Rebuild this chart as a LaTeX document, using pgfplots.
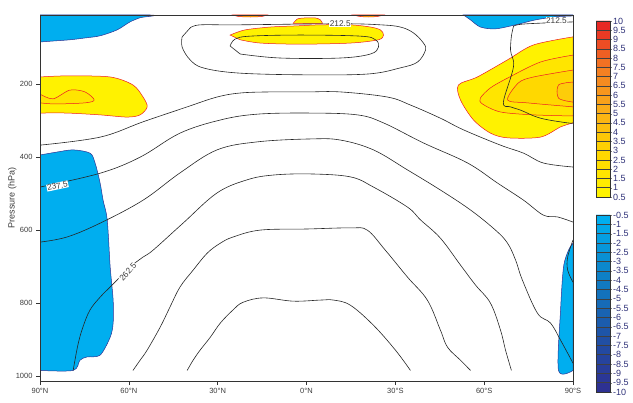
\documentclass[border=0pt]{standalone}
\usepackage{fontspec}
\setmainfont{Liberation Sans}
\usepackage{pgfplots}
\pgfplotsset{compat=1.18}
\definecolor{cyanfill}{RGB}{0,174,239}
\definecolor{bluedge}{RGB}{46,49,146}
\definecolor{yel1}{RGB}{255,242,0}
\definecolor{yel2}{RGB}{255,229,0}
\definecolor{yel3}{RGB}{255,216,0}
\definecolor{yel4}{RGB}{253,204,10}
\definecolor{rededge}{RGB}{237,28,36}
\definecolor{ticktext}{RGB}{60,60,60}
\definecolor{cbtext}{RGB}{46,49,120}
\pgfplotsset{
  cline/.style={black!85, line width=0.6pt, smooth, tension=0.6, no marks},
  bfill/.style={fill=cyanfill, draw=bluedge, line width=0.5pt, smooth, tension=0.5, no marks},
  yfill/.style={fill=#1, draw=rededge, line width=0.5pt, smooth, tension=0.5, no marks},
}
\tikzset{clab/.style={fill=white, inner sep=0.5pt, font=\fontsize{8.3}{9}\selectfont, text=ticktext}}
\begin{document}
\begin{tikzpicture}
\begin{axis}[name=ax, scale only axis, width=533pt, height=366pt,
  xmin=0, xmax=180, ymin=10, ymax=1014, y dir=reverse,
  xtick={0,30,60,90,120,150,180},
  xticklabels={90°N,60°N,30°N,0°N,30°S,60°S,90°S},
  ytick={200,400,600,800,1000},
  tick align=outside, xtick pos=bottom, ytick pos=left,
  major tick length=4pt,
  tick style={black!80, line width=0.6pt},
  tick label style={font=\fontsize{7.5}{8}\selectfont, text=ticktext},
  /pgf/number format/assume math mode=true,
  /pgf/number format/1000 sep={},
  ylabel={Pressure (hPa)},
  ylabel style={at={(axis description cs:0,0.5)}, anchor=south, yshift=20pt, font=\fontsize{9}{10}\selectfont, text=ticktext},
  axis line style={black!80, line width=0.8pt},
  axis on top,
]
% ---- negative (blue) regions
\addplot[bfill] coordinates {(0,10) (37.2,10) (33.8,17.5) (30.4,29) (26,51) (20.3,67) (15.2,73) (10.1,78) (5.1,81) (0,84)} -- cycle;
\addplot[bfill] coordinates {(143,10) (145.4,23.5) (148.7,43) (153.8,48) (160.6,37) (167.3,23.5) (174.1,15) (180,12.5) (180,10)} -- cycle;
\addplot[bfill] coordinates {(0,394) (5.7,386) (11.2,380) (16.9,389) (18.6,416) (20.3,471) (21.3,518) (22.7,572) (23.7,701) (24.7,792) (24.7,855) (23.7,894) (20.3,943) (15.9,948) (13.5,957) (11.2,985) (0,985)} -- cycle;
\addplot[bfill] coordinates {(180,636) (178.5,655) (176.8,701) (175.8,819) (175.1,985) (180,985)} -- cycle;
% ---- positive (yellow) regions
\addplot[yfill=yel1] coordinates {(0,180) (9.1,177) (23.7,180) (31.4,202) (34.8,235) (36.2,262) (33.8,284) (29.4,290) (20.3,284) (9.1,279) (0,279)} -- cycle;
\addplot[yfill=yel2] coordinates {(0,227) (4.4,240) (10.1,216) (15.2,221) (18.3,243) (15.2,251) (5.1,254) (0,251)} -- cycle;
\addplot[yfill=yel1] coordinates {(85.5,33) (86.9,21) (89.6,18) (93,18) (94.7,23.5) (95.4,33)} -- cycle;
\addplot[yfill=yel1] coordinates {(64.2,65) (69.2,51) (77.8,43) (86.2,40) (94.7,37) (104.8,37) (111.6,43) (115,51) (116,65) (114.3,78) (104.8,87) (87.9,90) (74.4,87) (67.6,78)} -- cycle;
\addplot[yfill=yel3] coordinates {(65.2,10) (67,14) (71,15.5) (75,14) (76.7,10)} -- cycle;
\addplot[yfill=yel3] coordinates {(105.8,10) (108,14) (111,15.5) (114,14) (116,10)} -- cycle;
\addplot[yfill=yel1] coordinates {(180,70) (166.7,92) (157.9,133) (147.7,180) (141.3,202) (142,243) (146.4,298) (152.1,334) (157.9,347) (169,345) (175.8,317) (180,306)} -- cycle;
\addplot[yfill=yel2] coordinates {(180,120) (169,139) (157.9,183) (152.1,210) (148.7,238) (149.4,254) (155.5,276) (166.7,284) (180,287)} -- cycle;
\addplot[yfill=yel3] coordinates {(180,161) (166.7,180) (161.6,196) (157.9,243) (164.6,251) (180,262)} -- cycle;
\addplot[yfill=yel4] coordinates {(180,194) (175.1,202) (175.1,238) (180,249)} -- cycle;
% ---- contour lines
\addplot[cline] coordinates {(48,70) (48,98) (50.7,133) (55.1,155) (66.6,169) (87.9,174) (110.5,172) (121.7,155) (127.5,139) (130.2,106) (129.5,87) (126.1,59) (121.7,43) (115,37) (101.4,34) (66.6,37) (54.1,37) (50.7,45.5)} -- cycle;
\addplot[cline] coordinates {(64.2,95) (65.9,76) (71,68) (87.9,65) (108.2,68) (113.3,78) (114.3,98) (111.6,117) (101.4,128) (81.1,128) (67.6,117)} -- cycle;
\addplot[cline] coordinates {(180,29) (170,32) (161.3,37) (159.6,51) (158.9,106) (159.9,152) (156.5,249) (158.9,262) (162.3,271) (169,293) (178.2,306) (180,306)};
\addplot[cline] coordinates {(0,367) (20.3,345) (34.8,303) (49.7,262) (59.8,235) (67.6,224) (77.8,221) (90.3,221) (101.4,221) (117.3,235) (125.1,257) (135.2,293) (143,325) (155.5,367) (163.3,389) (170,416) (180,427)};
\addplot[cline] coordinates {(0,482) (20.3,444) (33.8,400) (47.3,334) (60.9,298) (73.4,282) (91.3,279) (107.2,284) (116,306) (129.5,361) (144.4,416) (154.5,471) (163.3,518) (170,559) (174.8,564) (180,578)};
\addplot[cline] coordinates {(0,633) (9.1,619) (20.3,581) (34.8,518) (47.3,443) (59.8,380) (73.4,358) (91.3,350) (101.4,353) (112.6,380) (124.1,435) (135.2,490) (145.4,545) (153.8,600) (157.9,636) (160.6,682) (162.9,737) (168,828) (172.4,855) (175.8,902) (180,965)};
\addplot[cline] coordinates {(11.2,985) (12.8,915) (14.5,866) (16.9,819) (20.3,784) (23.7,756) (27,729) (30.4,701) (34.8,674) (38.2,655) (48.3,581) (59.8,498) (70,462) (78.8,449) (91.3,446) (104.8,454) (112.6,482) (124.1,537) (128.5,572) (135.2,622) (142,696) (147.1,751) (152.1,800) (155.5,874) (157.2,929) (159.2,985)};
\addplot[cline] coordinates {(31.4,985) (33.8,957) (36.2,929) (40.6,866) (43.9,811) (47.3,756) (51.7,710) (56.5,663) (60.9,636) (65.2,619) (74.4,600) (90.3,597) (104.8,594) (110.5,600) (116.6,655) (124.1,729) (130.8,792) (135.2,874) (137.6,921) (142,957) (145.4,985)};
\addplot[cline] coordinates {(49.7,985) (51.7,957) (54.1,929) (57.5,894) (60.9,855) (65.2,819) (68.6,798) (75.4,786) (85.5,795) (94.7,792) (99.1,792) (104.8,806) (112.6,861) (120,929) (125.1,985)};
\addplot[cline] coordinates {(180,627) (178.2,674) (178.2,710) (180,743)};
% ---- contour labels
\node[clab] at (axis cs:101.4,33) {212.5};
\node[clab] at (axis cs:174.4,26) {212.5};
\node[clab, rotate=12] at (axis cs:5.9,479) {237.5};
\node[clab, rotate=48] at (axis cs:29.7,715) {262.5};
\end{axis}
% ---- colour bar, positive
\begin{axis}[at={(ax.north east)}, anchor=north west, xshift=23pt, yshift=-6pt,
  scale only axis, width=14pt, height=176pt,
  xmin=0, xmax=1, ymin=0.5, ymax=10, xtick=\empty,
  ytick={0.5,1,1.5,2,2.5,3,3.5,4,4.5,5,5.5,6,6.5,7,7.5,8,8.5,9,9.5,10},
  ytick pos=right, yticklabel pos=right, tick align=outside, major tick length=1.5pt,
  tick label style={font=\fontsize{9}{9}\selectfont, text=cbtext},
  yticklabel style={xshift=-2pt, /pgf/number format/fixed},
  /pgf/number format/assume math mode=true,
  ymajorgrids, grid style={black!75, line width=0.5pt},
  axis line style={black!80, line width=0.6pt}, axis on top,
  colormap={warm}{rgb255=(255,242,0) rgb255=(255,212,0) rgb255=(250,172,25) rgb255=(243,122,35) rgb255=(232,40,36)},
  point meta min=0.75, point meta max=9.75]
\addplot[matrix plot*, mesh/cols=2, mesh/rows=19, point meta=explicit] coordinates {
(0.25,0.75) [0.75] (0.75,0.75) [0.75]
(0.25,1.25) [1.25] (0.75,1.25) [1.25]
(0.25,1.75) [1.75] (0.75,1.75) [1.75]
(0.25,2.25) [2.25] (0.75,2.25) [2.25]
(0.25,2.75) [2.75] (0.75,2.75) [2.75]
(0.25,3.25) [3.25] (0.75,3.25) [3.25]
(0.25,3.75) [3.75] (0.75,3.75) [3.75]
(0.25,4.25) [4.25] (0.75,4.25) [4.25]
(0.25,4.75) [4.75] (0.75,4.75) [4.75]
(0.25,5.25) [5.25] (0.75,5.25) [5.25]
(0.25,5.75) [5.75] (0.75,5.75) [5.75]
(0.25,6.25) [6.25] (0.75,6.25) [6.25]
(0.25,6.75) [6.75] (0.75,6.75) [6.75]
(0.25,7.25) [7.25] (0.75,7.25) [7.25]
(0.25,7.75) [7.75] (0.75,7.75) [7.75]
(0.25,8.25) [8.25] (0.75,8.25) [8.25]
(0.25,8.75) [8.75] (0.75,8.75) [8.75]
(0.25,9.25) [9.25] (0.75,9.25) [9.25]
(0.25,9.75) [9.75] (0.75,9.75) [9.75]
};
\end{axis}
% ---- colour bar, negative
\begin{axis}[at={(ax.north east)}, anchor=north west, xshift=23pt, yshift=-200pt,
  scale only axis, width=14pt, height=177pt,
  xmin=0, xmax=1, ymin=-10, ymax=-0.5, xtick=\empty,
  ytick={-10,-9.5,-9,-8.5,-8,-7.5,-7,-6.5,-6,-5.5,-5,-4.5,-4,-3.5,-3,-2.5,-2,-1.5,-1,-0.5},
  ytick pos=right, yticklabel pos=right, tick align=outside, major tick length=1.5pt,
  tick label style={font=\fontsize{9}{9}\selectfont, text=cbtext},
  yticklabel style={xshift=-2pt, /pgf/number format/fixed},
  /pgf/number format/assume math mode=true,
  ymajorgrids, grid style={black!75, line width=0.5pt},
  axis line style={black!80, line width=0.6pt}, axis on top,
  colormap={cool}{rgb255=(46,49,146) rgb255=(30,85,168) rgb255=(14,128,198) rgb255=(0,174,239)},
  point meta min=-9.75, point meta max=-0.75]
\addplot[matrix plot*, mesh/cols=2, mesh/rows=19, point meta=explicit] coordinates {
(0.25,-9.75) [-9.75] (0.75,-9.75) [-9.75]
(0.25,-9.25) [-9.25] (0.75,-9.25) [-9.25]
(0.25,-8.75) [-8.75] (0.75,-8.75) [-8.75]
(0.25,-8.25) [-8.25] (0.75,-8.25) [-8.25]
(0.25,-7.75) [-7.75] (0.75,-7.75) [-7.75]
(0.25,-7.25) [-7.25] (0.75,-7.25) [-7.25]
(0.25,-6.75) [-6.75] (0.75,-6.75) [-6.75]
(0.25,-6.25) [-6.25] (0.75,-6.25) [-6.25]
(0.25,-5.75) [-5.75] (0.75,-5.75) [-5.75]
(0.25,-5.25) [-5.25] (0.75,-5.25) [-5.25]
(0.25,-4.75) [-4.75] (0.75,-4.75) [-4.75]
(0.25,-4.25) [-4.25] (0.75,-4.25) [-4.25]
(0.25,-3.75) [-3.75] (0.75,-3.75) [-3.75]
(0.25,-3.25) [-3.25] (0.75,-3.25) [-3.25]
(0.25,-2.75) [-2.75] (0.75,-2.75) [-2.75]
(0.25,-2.25) [-2.25] (0.75,-2.25) [-2.25]
(0.25,-1.75) [-1.75] (0.75,-1.75) [-1.75]
(0.25,-1.25) [-1.25] (0.75,-1.25) [-1.25]
(0.25,-0.75) [-0.75] (0.75,-0.75) [-0.75]
};
\end{axis}
\pgfresetboundingbox
\path[use as bounding box] ([shift={(-40pt,-22pt)}]ax.south west) rectangle ([shift={(60pt,15pt)}]ax.north east);
\end{tikzpicture}
\end{document}
